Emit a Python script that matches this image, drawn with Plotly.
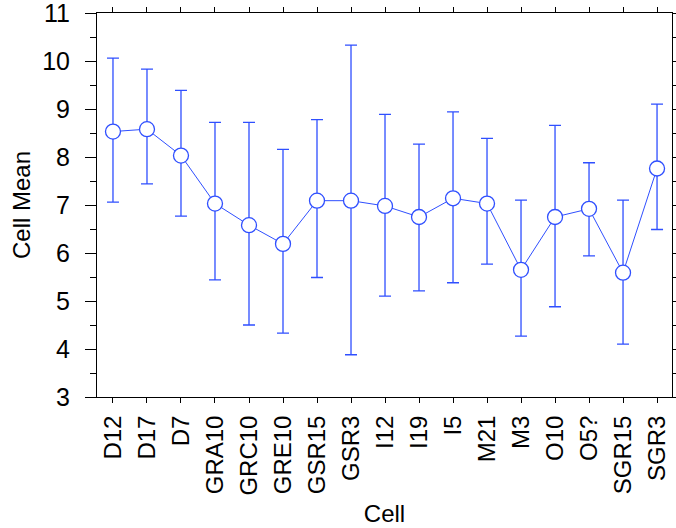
import plotly.graph_objects as go

cells = ["D12", "D17", "D7", "GRA10", "GRC10", "GRE10", "GSR15", "GSR3", "I12",
         "I19", "I5", "M21", "M3", "O10", "O5?", "SGR15", "SGR3"]
means = [8.53, 8.58, 8.03, 7.03, 6.58, 6.19, 7.09, 7.09, 6.98,
         6.75, 7.14, 7.03, 5.65, 6.75, 6.92, 5.59, 7.76]
upper = [10.06, 9.83, 9.39, 8.72, 8.72, 8.16, 8.78, 10.33, 8.89,
         8.27, 8.94, 8.39, 7.10, 8.66, 7.88, 7.10, 9.10]
lower = [7.06, 7.44, 6.77, 5.44, 4.50, 4.33, 5.49, 3.88, 5.10,
         5.21, 5.38, 5.77, 4.27, 4.88, 5.94, 4.10, 6.49]

err_plus = [u - m for u, m in zip(upper, means)]
err_minus = [m - l for m, l in zip(means, lower)]

BLUE = "#2f4fff"
FONT = "Liberation Sans, Arial, sans-serif"

fig = go.Figure()
fig.add_trace(go.Scatter(
    x=cells, y=means, mode="lines+markers",
    line=dict(color=BLUE, width=1),
    marker=dict(size=15, color="white", line=dict(color=BLUE, width=1.3)),
    error_y=dict(type="data", symmetric=False, array=err_plus, arrayminus=err_minus,
                 color=BLUE, thickness=1.3, width=6),
    showlegend=False, hoverinfo="x+y",
))
# invisible trace to carry the mirrored top/right tick axes
fig.add_trace(go.Scatter(
    x=cells, y=means, xaxis="x2", yaxis="y2", mode="markers",
    marker=dict(opacity=0), showlegend=False, hoverinfo="skip",
))

xr = [-0.47, 16.44]
yr = [3, 11]

fig.update_layout(
    width=676, height=528,
    margin=dict(l=97, r=4, t=13, b=131),
    paper_bgcolor="white", plot_bgcolor="white",
    font=dict(family=FONT, size=24, color="black"),
    xaxis=dict(
        type="category", categoryorder="array", categoryarray=cells,
        range=xr, showgrid=False, zeroline=False,
        showline=True, linecolor="black", linewidth=1,
        ticks="outside", ticklen=5, tickwidth=1, tickcolor="black",
        tickangle=-90, tickfont=dict(size=24), ticklabelstandoff=3,
        title=dict(text="Cell", font=dict(size=24), standoff=10),
        automargin=False,
    ),
    xaxis2=dict(
        type="category", categoryorder="array", categoryarray=cells,
        range=xr, overlaying="x", side="top", anchor="y",
        showgrid=False, zeroline=False, showticklabels=False,
        showline=True, linecolor="black", linewidth=1,
        ticks="outside", ticklen=5, tickwidth=1, tickcolor="black",
        automargin=False,
    ),
    yaxis=dict(
        range=yr, dtick=1, tick0=3, showgrid=False, zeroline=False,
        showline=True, linecolor="black", linewidth=1,
        ticks="outside", ticklen=11, tickwidth=1, tickcolor="black",
        minor=dict(dtick=0.5, tick0=3, ticks="outside", ticklen=6,
                   tickwidth=1, tickcolor="black", showgrid=False),
        tickfont=dict(size=25), ticklabelstandoff=10, ticklabeloverflow="allow",
        title=dict(text="Cell Mean", font=dict(size=24), standoff=4),
        automargin=False,
    ),
    yaxis2=dict(
        range=yr, dtick=0.5, tick0=3, overlaying="y", side="right", anchor="x",
        showgrid=False, zeroline=False, showticklabels=False,
        showline=True, linecolor="black", linewidth=1,
        ticks="outside", ticklen=4, tickwidth=1, tickcolor="black",
        automargin=False,
    ),
)

fig.write_html("out.html", config={"displayModeBar": False})
with open("out.html", "r", encoding="utf-8") as f:
    html = f.read()
html = html.replace("<head>", "<head><style>html,body{margin:0;padding:0;overflow:hidden;}</style>", 1)
with open("out.html", "w", encoding="utf-8") as f:
    f.write(html)
